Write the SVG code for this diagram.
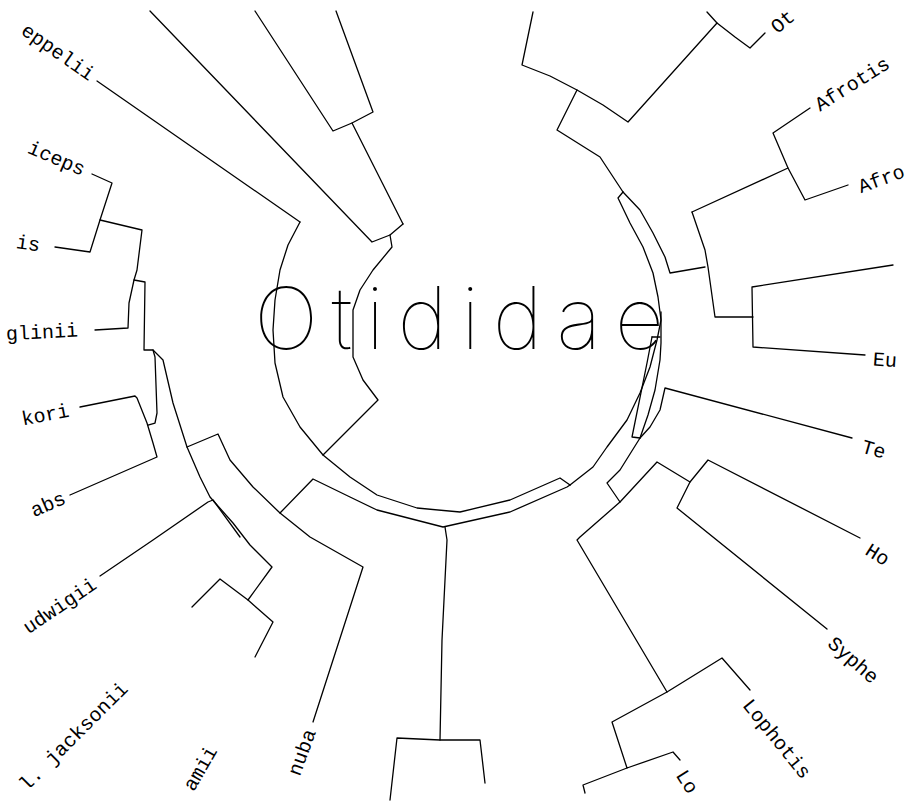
<svg xmlns="http://www.w3.org/2000/svg" width="914" height="809" viewBox="0 0 914 809">
<style>
.ln{fill:none;stroke:#000;stroke-width:1.3;stroke-linejoin:round;stroke-linecap:round}
.lb{font-family:"Liberation Mono","DejaVu Sans Mono",monospace;font-size:20px;fill:#000;dominant-baseline:central}
.e{text-anchor:end}
.s{text-anchor:start}
.ttl{font-family:Inter,Roboto,"Liberation Sans",sans-serif;font-weight:100;font-size:86px;fill:#000}
</style>
<rect width="914" height="809" fill="#fff"/>
<g id="connectors">
<polyline class="ln" points="97,81 300,222"/>
<polyline class="ln" points="300,222 288,245 280,270 275,300 273,330 275,363 283,397 300,427 323,455 350,477 377,495 417,508 460,512 510,500 560,478 570,485"/>
<polyline class="ln" points="570,485 593,467 607,447 627,420 640,393 650,367 657,340 661,320 658,297 653,273 643,247 630,223 618,198 623,192"/>
<polyline class="ln" points="652,337 660,337"/>
<polyline class="ln" points="652,337 647,363 632,437 640,438 648,415 655,390 660,360 661,343 661,312"/>
<polyline class="ln" points="150,11 372,242 390,235 403,224"/>
<polyline class="ln" points="255,11 333,131 352,123 373,112 336,11"/>
<polyline class="ln" points="352,123 403,224"/>
<polyline class="ln" points="390,235 392,247 373,270 360,290 353,310 353,357 363,380 378,400 323,455"/>
<polyline class="ln" points="92,174 112,183 100,220 90,252 55,247"/>
<polyline class="ln" points="100,220 142,230 137,270 134,280 129,303 128,328 95,330"/>
<polyline class="ln" points="134,280 145,282 144,350 153,350 163,360 173,403 187,447 200,477 210,497 233,523 250,545 272,567 248,600"/>
<polyline class="ln" points="192,607 220,579 248,600 273,622 255,657"/>
<polyline class="ln" points="80,407 135,396 137,398 147,423 153,443 157,457 70,495"/>
<polyline class="ln" points="148,425 155,423 157,413 155,357 153,350"/>
<polyline class="ln" points="100,576 153,540 208,502 213,500 240,537"/>
<polyline class="ln" points="187,447 218,434 230,460 253,487 280,513 310,537 363,567 313,722"/>
<polyline class="ln" points="280,513 313,479 350,497 377,510 443,527 510,512 567,487 570,485"/>
<polyline class="ln" points="445,527 447,540 442,640 440,740"/>
<polyline class="ln" points="390,800 397,738 440,740 480,740 485,783"/>
<polyline class="ln" points="640,438 620,470 607,483 620,502 580,537 577,540 667,692"/>
<polyline class="ln" points="620,502 657,462 690,482"/>
<polyline class="ln" points="860,538 708,460 690,482 677,508 827,629"/>
<polyline class="ln" points="750,690 722,658 667,692 612,722 627,768 673,752 680,760"/>
<polyline class="ln" points="627,768 583,785 585,793"/>
<polyline class="ln" points="852,438 665,388 660,410 650,427 640,438"/>
<polyline class="ln" points="692,212 705,250 708,267 715,317 753,317"/>
<polyline class="ln" points="893,265 752,287 753,347 865,355"/>
<polyline class="ln" points="810,108 773,133 788,168 805,200 848,185"/>
<polyline class="ln" points="788,168 692,212"/>
<polyline class="ln" points="623,192 640,210 653,233 665,257 670,273 705,267"/>
<polyline class="ln" points="533,12 522,65 550,76 577,90 603,105 628,122 717,23"/>
<polyline class="ln" points="577,90 557,130 600,157 623,192"/>
<polyline class="ln" points="707,12 717,23 735,37 750,48 765,33"/>
</g>
<g id="title"><text class="ttl" x="254" y="349" textLength="410" lengthAdjust="spacing">Otididae</text></g>
<g id="n-rueppelii"><text class="lb e" transform="translate(92,77) rotate(35)">eppelii</text></g>
<g id="n-nigriceps"><text class="lb e" transform="translate(84,171) rotate(23)">iceps</text></g>
<g id="n-australis"><text class="lb e" transform="translate(40,246) rotate(8)">is</text></g>
<g id="n-heuglinii"><text class="lb e" transform="translate(78,331) rotate(-3)">glinii</text></g>
<g id="n-kori"><text class="lb e" transform="translate(69,411) rotate(-11)">kori</text></g>
<g id="n-arabs"><text class="lb e" transform="translate(65,498) rotate(-23)">abs</text></g>
<g id="n-ludwigii"><text class="lb e" transform="translate(95,583) rotate(-34)">udwigii</text></g>
<g id="n-jacksoni"><text class="lb e" transform="translate(125,686) rotate(-45)">l. jacksonii</text></g>
<g id="n-denhami"><text class="lb e" transform="translate(213,748) rotate(-60)">amii</text></g>
<g id="n-nuba"><text class="lb e" transform="translate(311,730) rotate(-70)">nuba</text></g>
<g id="n-tarda"><text class="lb s" transform="translate(774,30) rotate(-40)">Ot</text></g>
<g id="n-afra"><text class="lb s" transform="translate(817,107) rotate(-32)">Afrotis</text></g>
<g id="n-afraoides"><text class="lb s" transform="translate(859,188) rotate(-20)">Afro</text></g>
<g id="n-caerulescens"><text class="lb s" transform="translate(873,360) rotate(4)">Eu</text></g>
<g id="n-tetrax"><text class="lb s" transform="translate(862,447) rotate(16)">Te</text></g>
<g id="n-bengalensis"><text class="lb s" transform="translate(867,549) rotate(32)">Ho</text></g>
<g id="n-indicus"><text class="lb s" transform="translate(830,641) rotate(41)">Syphe</text></g>
<g id="n-ruficrista"><text class="lb s" transform="translate(746,702) rotate(51)">Lophotis</text></g>
<g id="n-savilei"><text class="lb s" transform="translate(680,772) rotate(58)">Lo</text></g>
</svg>
